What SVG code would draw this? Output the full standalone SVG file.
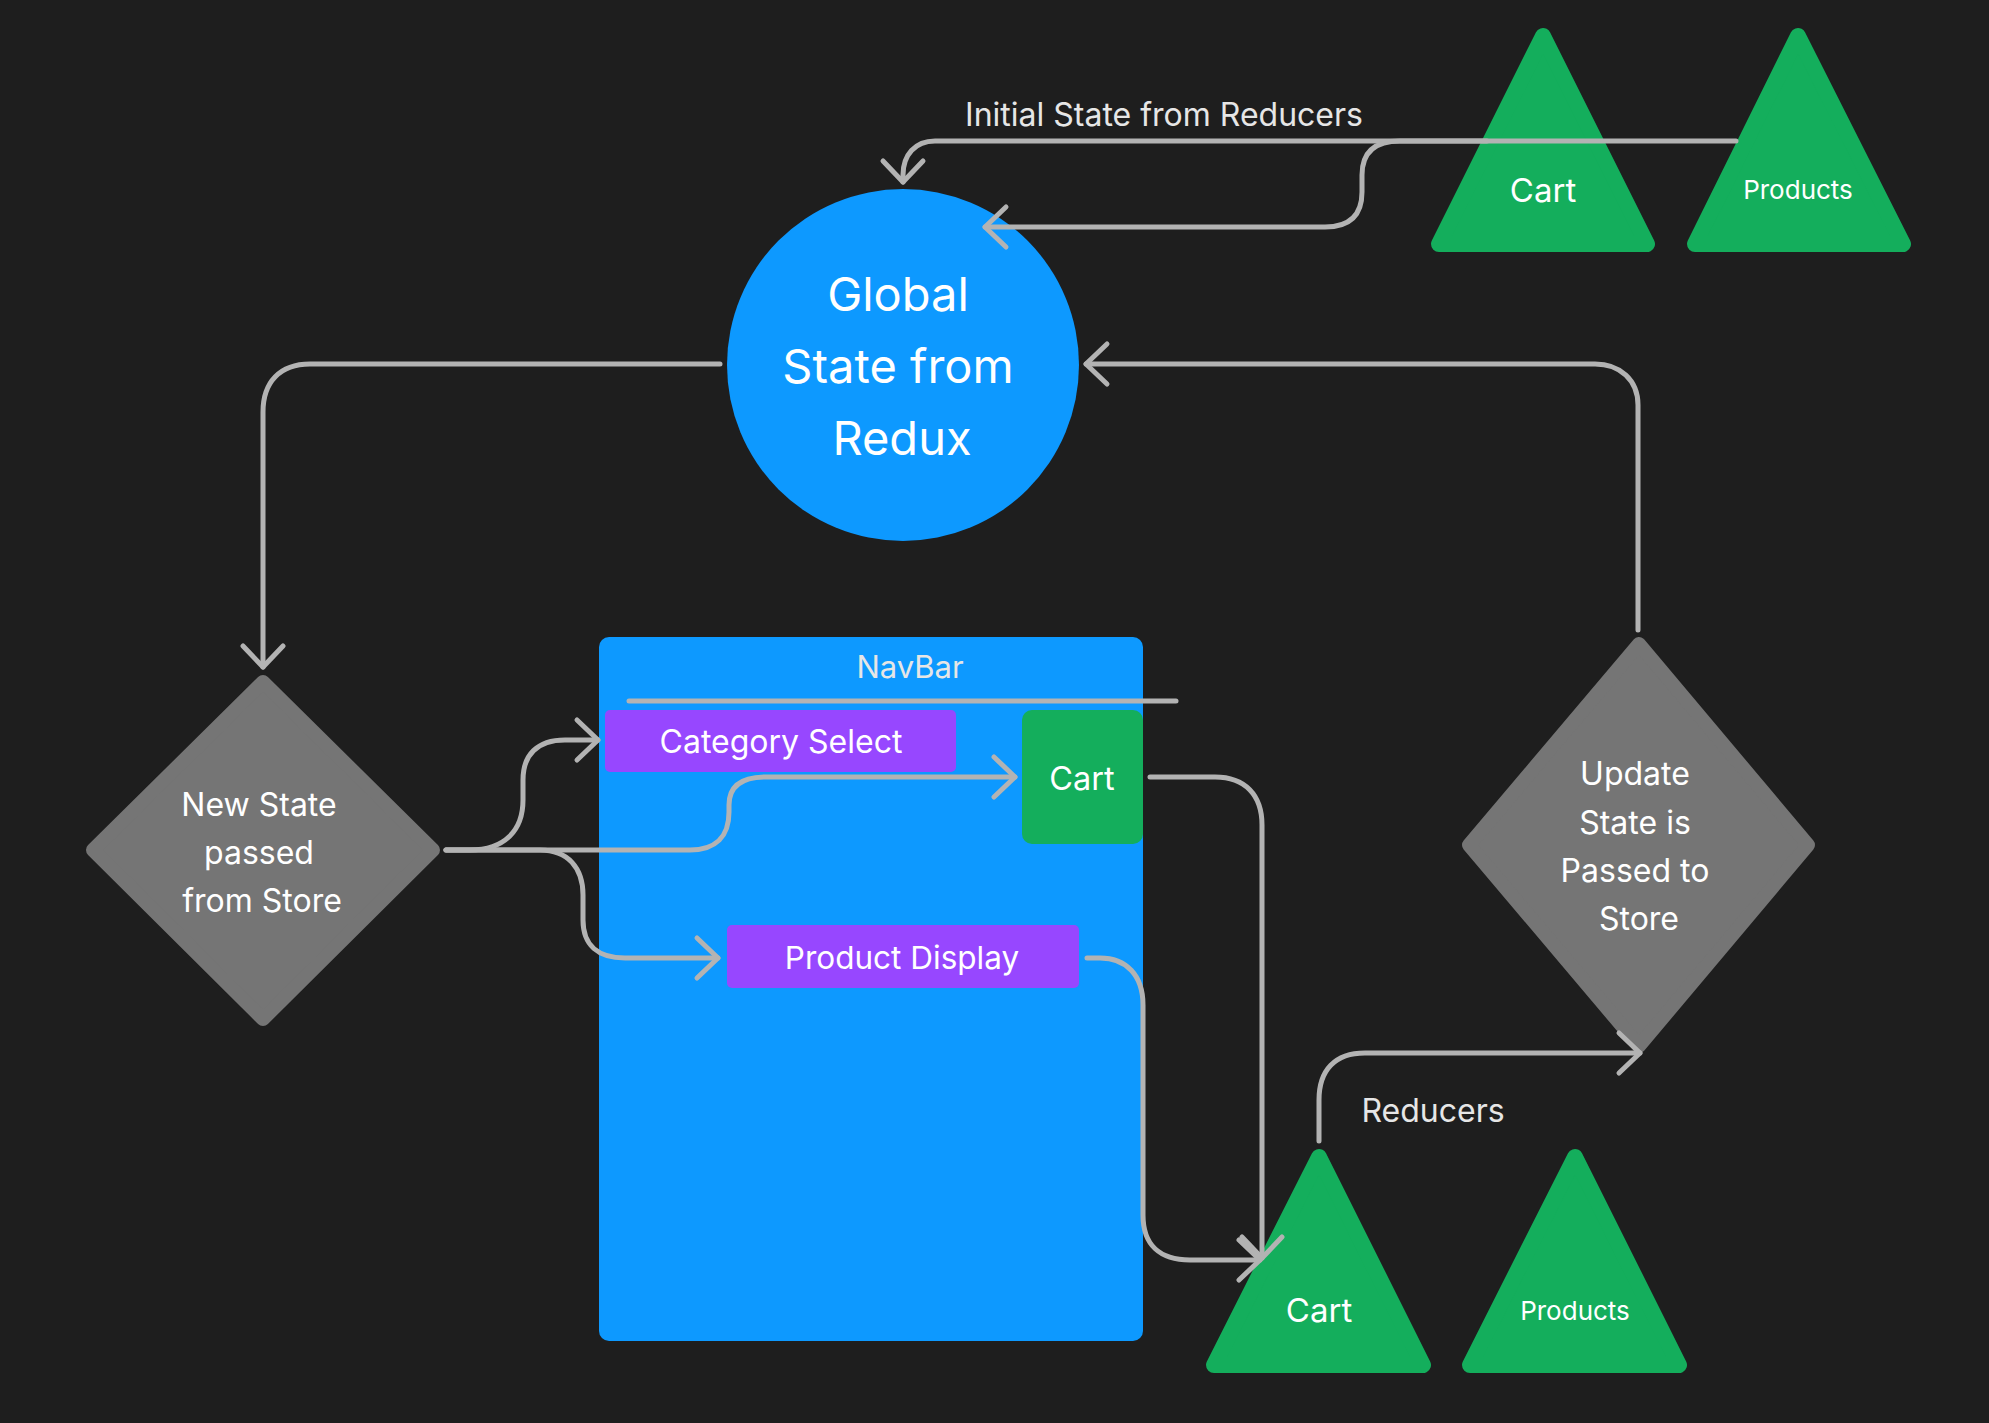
<svg xmlns="http://www.w3.org/2000/svg" width="1989" height="1423" viewBox="0 0 1989 1423">
<defs>
<style>
.bg{fill:#1e1e1e}
.blue{fill:#0d99ff}
.green{fill:#14ae5c;stroke:#14ae5c;stroke-width:16;stroke-linejoin:round}
.rgreen{fill:#14ae5c}
.purple{fill:#9747ff}
.dia{fill:#757575;stroke:#757575;stroke-width:14;stroke-linejoin:round}
.conn{fill:none;stroke:#b3b3b3;stroke-width:5;stroke-linecap:round;stroke-linejoin:round}
.t{font-family:Inter,"Noto Sans","Liberation Sans",sans-serif;fill:#ffffff;text-anchor:middle}
.lbl{font-family:Inter,"Noto Sans","Liberation Sans",sans-serif;fill:#e6e6e6;text-anchor:middle}
</style>
<marker id="arr" markerUnits="userSpaceOnUse" markerWidth="60" markerHeight="60" refX="30" refY="30" orient="auto" viewBox="0 0 60 60" overflow="visible">
<path d="M9,10 L30,30 L9,50" fill="none" stroke="#b3b3b3" stroke-width="5" stroke-linecap="round" stroke-linejoin="round"/>
</marker>
</defs>
<rect class="bg" x="0" y="0" width="1989" height="1423"/>

<g id="global-state">
<circle class="blue" cx="903" cy="365" r="176"/>
<text class="t" x="898" y="311" font-size="47">Global</text>
<text class="t" x="898" y="383" font-size="47">State from</text>
<text class="t" x="902" y="455" font-size="47">Redux</text>
</g>

<g id="top-cart">
<polygon class="green" points="1543,36 1647,244 1439,244"/>
<text class="t" x="1543" y="202" font-size="33">Cart</text>
</g>

<g id="top-products">
<polygon class="green" points="1798,36 1903,244 1695,244"/>
<text class="t" x="1798" y="199" font-size="26">Products</text>
</g>

<g id="new-state">
<polygon class="dia" points="263,682 433,850 263,1019 93,850"/>
<text class="t" x="259" y="816" font-size="32">New State</text>
<text class="t" x="259" y="864" font-size="32">passed</text>
<text class="t" x="262" y="912" font-size="32">from Store</text>
</g>

<g id="navbar">
<rect class="blue" x="599" y="637" width="544" height="704" rx="10"/>
<text class="lbl" x="910" y="678" font-size="31">NavBar</text>
<line class="conn" x1="629" y1="701" x2="1176" y2="701"/>
</g>

<g id="category-select">
<rect class="purple" x="605" y="710" width="351" height="62" rx="5"/>
<text class="t" x="781" y="753" font-size="32">Category Select</text>
</g>

<g id="nav-cart">
<rect class="rgreen" x="1022" y="710" width="121" height="134" rx="10"/>
<text class="t" x="1082" y="790" font-size="32.5">Cart</text>
</g>

<g id="product-display">
<rect class="purple" x="727" y="925" width="352" height="63" rx="5"/>
<text class="t" x="902" y="969" font-size="31.5">Product Display</text>
</g>

<g id="update-state">
<polygon class="dia" points="1639,644 1808,845 1639,1046 1469,845"/>
<text class="t" x="1635" y="785" font-size="32">Update</text>
<text class="t" x="1635" y="834" font-size="32">State is</text>
<text class="t" x="1635" y="882" font-size="32">Passed to</text>
<text class="t" x="1639" y="930" font-size="32">Store</text>
</g>

<g id="bottom-cart">
<polygon class="green" points="1319,1157 1423,1365 1214,1365"/>
<text class="t" x="1319" y="1322" font-size="33">Cart</text>
</g>

<g id="bottom-products">
<polygon class="green" points="1575,1157 1679,1365 1470,1365"/>
<text class="t" x="1575" y="1320" font-size="26">Products</text>
</g>

<g id="connectors">
<path class="conn" marker-end="url(#arr)" d="M1736 141 L935 141 C915 141 903 155 903 175 L903 182"/>
<path class="conn" marker-end="url(#arr)" d="M1487 141 L1400 141 C1375 141 1362 152 1362 175 L1362 192 C1362 215 1350 227 1325 227 L985 227"/>
<path class="conn" marker-end="url(#arr)" d="M720 364 L310 364 C280 364 263 382 263 412 L263 667"/>
<path class="conn" marker-end="url(#arr)" d="M1638 630 L1638 405 C1638 380 1620 364 1595 364 L1086 364"/>
<path class="conn" marker-end="url(#arr)" d="M446 850 L470 850 C505 850 523 830 523 800 L523 780 C523 755 537 740 565 740 L598 740"/>
<path class="conn" marker-end="url(#arr)" d="M446 850 L690 850 C716 850 729 836 729 812 L729 805 C729 786 742 777 766 777 L1015 777"/>
<path class="conn" marker-end="url(#arr)" d="M446 850 L540 850 C568 850 583 868 583 895 L583 920 C583 945 598 958 625 958 L718 958"/>
<path class="conn" marker-end="url(#arr)" d="M1150 777 L1215 777 C1245 777 1262 795 1262 825 L1262 1258"/>
<path class="conn" marker-end="url(#arr)" d="M1087 958 L1100 958 C1126 958 1143 975 1143 1005 L1143 1215 C1143 1245 1160 1260 1190 1260 L1260 1260"/>
<path class="conn" marker-end="url(#arr)" d="M1319 1141 L1319 1100 C1319 1070 1335 1053 1365 1053 L1640 1053"/>
<text class="lbl" x="1164" y="126" font-size="32">Initial State from Reducers</text>
<text class="lbl" x="1433" y="1122" font-size="32">Reducers</text>
</g>
</svg>
